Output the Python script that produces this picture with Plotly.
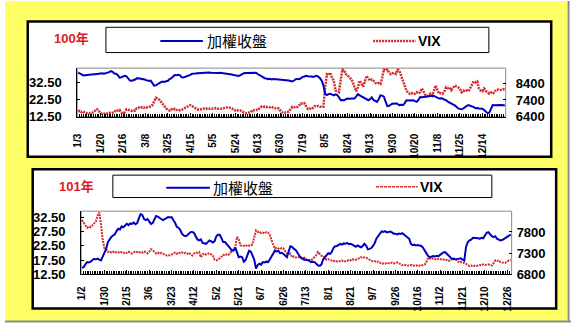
import plotly.graph_objects as go

W, H = 572, 332

# x-axis tick labels (one every 13 trading days)
ticks_2011 = ["1/3", "1/20", "2/16", "3/8", "3/25", "4/15", "5/5", "5/24", "6/13", "6/30",
              "7/19", "8/5", "8/24", "9/13", "9/30", "10/20", "11/8", "11/25", "12/14"]
ticks_2012 = ["1/2", "1/30", "2/15", "3/6", "3/23", "4/12", "5/2", "5/21", "6/7", "6/26",
              "7/13", "8/1", "8/21", "9/7", "9/26", "10/16", "11/2", "11/21", "12/10", "12/26"]
TICK_STEP = 13

# 100年 daily closes (加權收盤) and VIX
taiex_2011 = [
    9027, 8990, 8930, 8865, 8880, 8910, 8935, 8950, 8925, 8940,
    8935, 8960, 8985, 8975, 8990, 8970, 8985, 9010, 9060, 9126,
    9080, 8975, 8965, 8880, 8737, 8760, 8800, 8845, 8810, 8662,
    8560, 8546, 8570, 8620, 8690, 8700, 8680, 8640, 8650, 8600,
    8546, 8530, 8555, 8430, 8256, 8270, 8340, 8420, 8460, 8500,
    8480, 8520, 8546, 8650, 8700, 8800, 8894, 8880, 8900, 8870,
    8750, 8740, 8780, 8800, 8836, 8900, 8970, 8960, 8975, 8990,
    9000, 9020, 9010, 9030, 9015, 9020, 9035, 9020, 9010, 9025,
    9030, 9005, 9020, 9010, 9000, 8970, 8940, 8930, 8935, 8920,
    8890, 8860, 8850, 8836, 8880, 8950, 9000, 9010, 9015, 9005,
    9020, 9027, 9030, 9020, 8950, 8880, 8840, 8780, 8700, 8680,
    8645, 8660, 8630, 8650, 8640, 8660, 8645, 8620, 8600, 8587,
    8580, 8590, 8560, 8530, 8505, 8560, 8645, 8650, 8640, 8700,
    8780, 8800, 8840, 8820, 8830, 8800, 8780, 8800, 8840, 8790,
    8700, 8546, 8256, 7775, 7700, 7750, 7775, 7720, 7680, 7740,
    7700, 7560, 7386, 7400, 7386, 7450, 7485, 7470, 7500, 7490,
    7485, 7600, 7750, 7680, 7618, 7560, 7470, 7400, 7386, 7450,
    7560, 7400, 7330, 7287, 7450, 7676, 7660, 7600, 7300, 7038,
    7050, 7100, 7195, 7180, 7200, 7150, 7096, 7110, 7096, 7200,
    7386, 7370, 7390, 7380, 7386, 7330, 7287, 7400, 7577, 7560,
    7580, 7577, 7600, 7640, 7620, 7650, 7640, 7580, 7520, 7485,
    7500, 7485, 7420, 7386, 7300, 7250, 7195, 7150, 7080, 6997,
    6900, 6870, 6846, 6900, 7000, 7050, 7096, 7060, 7040, 6980,
    6905, 6920, 6890, 6905, 6880, 6800, 6700, 6614, 6640, 6900,
    7096, 7090, 7100, 7096, 7095, 7100, 7090, 7072,
]
vix_2011 = [
    15.5, 16.0, 15.2, 15.6, 14.8, 14.6, 14.9, 14.5, 14.7, 15.4,
    16.2, 16.9, 15.8, 14.6, 14.2, 14.4, 14.0, 14.3, 14.9, 14.6,
    14.8, 15.2, 16.5, 16.2, 16.6, 15.0, 14.6, 15.1, 16.9, 16.7,
    16.3, 16.0, 16.5, 16.1, 17.6, 17.9, 17.5, 18.2, 17.8, 18.4,
    18.0, 18.3, 18.6, 19.4, 21.8, 23.7, 23.3, 22.6, 21.3, 19.8,
    18.6, 17.4, 16.8, 16.2, 17.0, 16.4, 17.2, 16.5, 16.8, 16.3,
    16.6, 17.0, 17.8, 18.4, 18.9, 19.4, 18.8, 18.2, 17.3, 16.9,
    16.7, 17.0, 16.9, 17.4, 17.1, 17.6, 17.3, 17.5, 17.2, 17.5,
    17.7, 17.3, 17.5, 17.2, 17.6, 17.8, 18.0, 17.6, 17.8, 17.4,
    16.8, 16.2, 16.5, 16.0, 16.2, 15.4, 15.0, 14.6, 14.8, 14.6,
    15.2, 16.5, 16.3, 16.6, 16.4, 17.5, 18.4, 18.0, 18.6, 18.2,
    18.4, 18.1, 18.4, 17.8, 17.5, 17.2, 17.5, 16.0, 15.1, 15.3,
    15.0, 15.2, 15.6, 17.0, 18.4, 18.1, 18.6, 18.3, 19.5, 20.4,
    20.0, 20.4, 18.6, 17.1, 17.4, 17.0, 17.8, 18.8, 18.5, 18.9,
    18.4, 18.6, 18.4, 30.0, 37.6, 37.0, 38.5, 35.5, 33.8, 28.0,
    27.5, 27.0, 34.0, 40.5, 40.0, 37.6, 37.0, 35.5, 34.8, 33.0,
    30.0, 27.5, 30.0, 33.8, 32.0, 30.3, 33.5, 36.6, 35.0, 33.8,
    34.5, 33.8, 32.5, 31.9, 32.4, 31.9, 35.5, 40.5, 39.8, 40.5,
    38.5, 37.6, 38.2, 38.5, 37.8, 40.5, 39.5, 36.0, 33.8, 31.0,
    28.0, 26.8, 26.1, 26.6, 25.8, 26.1, 27.0, 26.2, 27.0, 29.2,
    27.5, 25.4, 24.6, 25.6, 26.1, 25.0, 28.5, 30.9, 28.0, 26.1,
    26.5, 26.1, 27.5, 29.9, 29.4, 29.9, 28.2, 29.9, 30.9, 30.4,
    29.9, 28.8, 27.0, 28.0, 27.4, 28.0, 27.6, 29.5, 31.9, 33.4,
    32.8, 33.4, 29.2, 28.0, 27.5, 29.2, 27.8, 27.0, 26.1, 26.8,
    26.1, 27.0, 28.4, 28.6, 28.2, 28.4, 28.8, 28.4,
]

# 101年 daily closes (加權收盤) and VIX
taiex_2012 = [
    6950, 6976, 7040, 7090, 7080, 7100, 7140, 7166, 7150, 7170,
    7150, 7130, 7220, 7304, 7400, 7560, 7624, 7680, 7716, 7740,
    7820, 7876, 7860, 7930, 7910, 7960, 7990, 7960, 8000, 7990,
    8020, 7980, 8010, 8120, 8220, 8200, 8105, 8080, 8105, 8050,
    7990, 8010, 8080, 8174, 8160, 8140, 8105, 8080, 8105, 8130,
    8150, 8140, 8150, 8080, 8020, 7922, 7900, 7850, 7760, 7716,
    7700, 7716, 7760, 7796, 7800, 7780, 7700, 7624, 7600, 7624,
    7540, 7533, 7520, 7560, 7600, 7580, 7550, 7585, 7700, 7740,
    7730, 7650, 7560, 7560, 7520, 7470, 7420, 7356, 7360, 7430,
    7330, 7205, 7220, 7205, 7098, 7140, 7250, 7356, 7340, 7242,
    7150, 6937, 7020, 7050, 7030, 7090, 7080, 7100, 7090, 7150,
    7220, 7290, 7356, 7340, 7356, 7300, 7310, 7280, 7250, 7205,
    7340, 7464, 7450, 7400, 7380, 7300, 7250, 7200, 7180, 7145,
    7150, 7140, 7120, 7090, 7100, 7090, 7050, 7013, 7000, 7030,
    7150, 7205, 7260, 7300, 7280, 7330, 7420, 7464, 7470, 7500,
    7521, 7500, 7530, 7521, 7540, 7510, 7521, 7500, 7480, 7450,
    7480, 7460, 7440, 7470, 7521, 7480, 7390, 7400, 7420, 7470,
    7540, 7647, 7700, 7760, 7814, 7800, 7820, 7790, 7800, 7810,
    7790, 7760, 7760, 7740, 7760, 7750, 7770, 7740, 7700, 7670,
    7640, 7520, 7487, 7500, 7480, 7490, 7480, 7470, 7430, 7356,
    7300, 7230, 7205, 7215, 7230, 7220, 7240, 7230, 7260, 7300,
    7320, 7320, 7280, 7240, 7200, 7160, 7170, 7150, 7160, 7170,
    7180, 7150, 7130, 7440, 7556, 7600, 7620, 7663, 7660, 7670,
    7650, 7640, 7660, 7650, 7720, 7780, 7796, 7740, 7700, 7680,
    7700, 7640, 7620, 7601, 7610, 7640, 7660, 7700, 7710, 7740,
]
vix_2012 = [
    31.5, 30.2, 29.5, 28.8, 29.3, 29.0, 29.8, 30.5, 31.0, 33.0,
    34.2, 30.0, 24.5, 21.7, 21.2, 20.3, 20.6, 20.1, 20.4, 20.0,
    20.3, 20.1, 20.5, 20.2, 19.9, 20.3, 20.0, 20.4, 20.2, 19.8,
    20.2, 20.5, 20.3, 20.0, 20.4, 20.1, 20.5, 20.2, 19.8, 20.4,
    21.3, 21.0, 20.4, 19.8, 20.1, 19.7, 20.0, 19.8, 19.4, 19.1,
    19.3, 19.1, 19.6, 19.8, 20.1, 19.7, 20.2, 19.9, 20.2, 19.8,
    20.0, 19.7, 20.1, 19.6, 19.1, 19.8, 20.2, 20.0, 20.3, 18.5,
    19.5, 19.8, 19.4, 19.7, 19.9, 19.5, 19.0, 17.6, 17.4, 17.6,
    18.2, 18.6, 19.3, 19.0, 19.5, 19.3, 20.0, 20.8, 21.5, 22.0,
    25.6, 24.8, 22.7, 22.4, 22.5, 22.8, 22.3, 22.6, 22.5, 23.0,
    25.5, 27.8, 27.3, 27.5, 26.9, 27.1, 26.8, 27.3, 27.1, 26.4,
    24.5, 23.0, 21.5, 21.8, 21.5, 21.3, 21.8, 21.6, 20.6, 19.8,
    19.6, 19.8, 18.5, 18.8, 18.4, 18.6, 18.5, 18.2, 18.0, 18.3,
    17.8, 17.4, 17.6, 17.4, 17.9, 18.5, 19.2, 20.3, 19.6, 19.0,
    19.0, 18.4, 17.6, 17.8, 17.5, 17.3, 17.1, 17.4, 17.0, 17.2,
    17.1, 17.3, 16.9, 17.1, 17.2, 17.6, 17.4, 17.8, 17.5, 17.6,
    18.0, 18.3, 18.5, 18.2, 18.5, 18.3, 18.0, 17.6, 17.2, 17.0,
    17.1, 16.8, 17.0, 16.5, 16.2, 16.3, 16.2, 16.6, 16.4, 16.5,
    16.6, 16.3, 16.5, 16.7, 16.4, 16.1, 15.7, 15.9, 15.7, 15.6,
    15.6, 15.8, 15.5, 15.6, 15.7, 15.4, 15.6, 15.8, 15.7, 15.9,
    16.8, 18.3, 18.0, 17.8, 18.1, 17.9, 17.6, 18.0, 17.8, 17.9,
    17.5, 17.4, 17.6, 17.3, 17.4, 18.0, 17.8, 18.1, 17.4, 16.6,
    16.8, 16.5, 16.6, 16.2, 15.8, 15.4, 15.6, 15.3, 15.5, 15.4,
    15.6, 15.8, 15.7, 16.0, 15.8, 15.9, 16.0, 15.7, 15.6, 16.4,
    17.4, 17.2, 17.4, 16.8, 16.6, 16.7, 16.6, 17.0, 17.4, 17.4,
]

BLUE = "#0000c0"
RED = "#d42a2a"
YELLOW = "#ffff66"
GRAY = "#8a8a8a"
NUM_FONT = dict(family="Liberation Sans, Arial", size=13, color="black", weight="bold")
DATE_FONT = dict(family="Liberation Sans, Arial", size=10, color="black", weight="bold")


def fx(px):
    return px / W


def fy(py):
    return 1 - py / H


def rect(x0, y0, x1, y1, fill=None, color=None, width=0, layer="below"):
    return dict(type="rect", xref="paper", yref="paper",
                x0=fx(x0), x1=fx(x1), y0=fy(y1), y1=fy(y0),
                fillcolor=fill if fill else "rgba(0,0,0,0)",
                line=dict(color=color if color else "rgba(0,0,0,0)", width=width),
                layer=layer)


def hline(x0, x1, y, color, width, dash="solid", layer="above"):
    return dict(type="line", xref="paper", yref="paper",
                x0=fx(x0), x1=fx(x1), y0=fy(y), y1=fy(y),
                line=dict(color=color, width=width, dash=dash), layer=layer)


def label(text, x, y, font, xanchor="left"):
    return dict(text=text, x=fx(x), y=fy(y), xref="paper", yref="paper",
                showarrow=False, xanchor=xanchor, yanchor="middle", font=font)


fig = go.Figure()

x11 = list(range(len(taiex_2011)))
x12 = list(range(len(taiex_2012)))

fig.add_trace(go.Scatter(x=x11, y=vix_2011, mode="lines", xaxis="x", yaxis="y",
                         line=dict(color=RED, width=2.5, dash="2px,1px"), showlegend=False))
fig.add_trace(go.Scatter(x=x11, y=taiex_2011, mode="lines", xaxis="x", yaxis="y2",
                         line=dict(color=BLUE, width=2), showlegend=False))
fig.add_trace(go.Scatter(x=x12, y=vix_2012, mode="lines", xaxis="x2", yaxis="y3",
                         line=dict(color=RED, width=2, dash="2px,1px"), showlegend=False))
fig.add_trace(go.Scatter(x=x12, y=taiex_2012, mode="lines", xaxis="x2", yaxis="y4",
                         line=dict(color=BLUE, width=2), showlegend=False))


def x_axis(n, labels, domain, anchor, standoff):
    return dict(domain=domain, anchor=anchor, range=[-0.5, n - 0.5],
                tickmode="array", tickvals=[i * TICK_STEP for i in range(len(labels))],
                ticktext=labels, tickangle=-90, tickfont=DATE_FONT,
                ticks="inside", ticklen=4, tickcolor="black", tickwidth=1,
                minor=dict(tickmode="linear", tick0=0, dtick=1, ticks="inside",
                           ticklen=3, tickcolor="black", tickwidth=1, showgrid=False),
                showline=True, linecolor="black", linewidth=1,
                showgrid=False, zeroline=False, ticklabelstandoff=standoff)


def y_axis(rng, vals, labels, domain, anchor, side, standoff, overlay=None):
    d = dict(domain=domain, anchor=anchor, range=rng, side=side,
             tickmode="array", tickvals=vals, ticktext=labels, tickfont=NUM_FONT,
             ticks="inside", ticklen=3, tickcolor="black",
             showline=(side == "left"), linecolor="black", linewidth=1,
             showgrid=False, zeroline=False, ticklabelstandoff=standoff)
    if overlay:
        d["overlaying"] = overlay
    return d


top_xd = [fx(73), fx(506)]
top_yd = [fy(119), fy(69)]
bot_xd = [fx(77), fx(512)]
bot_yd = [fy(281), fy(216)]

vix_ticks_top = [12.5, 22.5, 32.5]
idx_ticks_top = [6400, 7400, 8400]
vix_ticks_bot = [12.5, 17.5, 22.5, 27.5, 32.5]
idx_ticks_bot = [6800, 7300, 7800]

shapes = [
    rect(0, 0, 568, 329, fill=YELLOW),
    hline(0, 572, 329.5, GRAY, 2, layer="below"),
    dict(type="line", xref="paper", yref="paper", x0=fx(569.5), x1=fx(569.5),
         y0=fy(0), y1=fy(330), line=dict(color=GRAY, width=2), layer="below"),
    # panel boxes
    rect(23, 21, 552, 160, fill="white", color="black", width=2.5),
    rect(28, 173, 557, 316, fill="white", color="black", width=2.5),
    # legend frames
    rect(102, 27, 489, 53, fill="white", color="black", width=1),
    rect(109, 179, 492, 202, fill="white", color="black", width=1),
    # plot area frames
    rect(73, 69, 506, 119, color=GRAY, width=1),
    rect(77, 216, 512, 281, color=GRAY, width=1),
    # legend samples
    hline(157, 200, 41, BLUE, 2),
    hline(372, 415, 41, RED, 2.5, dash="2px,1px"),
    hline(163, 207, 192, BLUE, 2),
    hline(375, 417, 191, RED, 1.5, dash="3px,1px"),
]

CJK = "Noto Sans CJK TC"
YEAR_FONT = dict(family="Liberation Sans, " + CJK, size=13, color="#e02020", weight="bold")
CJK_FONT = dict(family=CJK, size=15, color="black")
VIX_FONT = dict(family="Liberation Sans, Arial", size=14, color="black", weight="bold")

annotations = [
    label("100年", 67, 39, YEAR_FONT, xanchor="center"),
    label("加權收盤", 202, 41, CJK_FONT),
    label("VIX", 415, 41, VIX_FONT),
    label("101年", 72, 191, YEAR_FONT, xanchor="center"),
    label("加權收盤", 208, 192, CJK_FONT),
    label("VIX", 417, 191, VIX_FONT),
]

fig.update_layout(
    width=W, height=H, margin=dict(l=0, r=0, t=0, b=0, pad=0),
    paper_bgcolor="white", plot_bgcolor="rgba(0,0,0,0)",
    showlegend=False,
    xaxis=x_axis(len(taiex_2011), ticks_2011, top_xd, "y", 12),
    xaxis2=x_axis(len(taiex_2012), ticks_2012, bot_xd, "y3", 7),
    yaxis=y_axis([12.5, 41.2], vix_ticks_top, ["%.2f" % v for v in vix_ticks_top],
                 top_yd, "x", "left", 12),
    yaxis2=y_axis([6400, 9300], idx_ticks_top, [str(v) for v in idx_ticks_top],
                  top_yd, "x", "right", 9, overlay="y"),
    yaxis3=y_axis([12.5, 34.6], vix_ticks_bot, ["%.2f" % v for v in vix_ticks_bot],
                  bot_yd, "x2", "left", 12),
    yaxis4=y_axis([6800, 8290], idx_ticks_bot, [str(v) for v in idx_ticks_bot],
                  bot_yd, "x2", "right", 4, overlay="y3"),
    shapes=shapes,
    annotations=annotations,
)

fig.write_html("out.html")
